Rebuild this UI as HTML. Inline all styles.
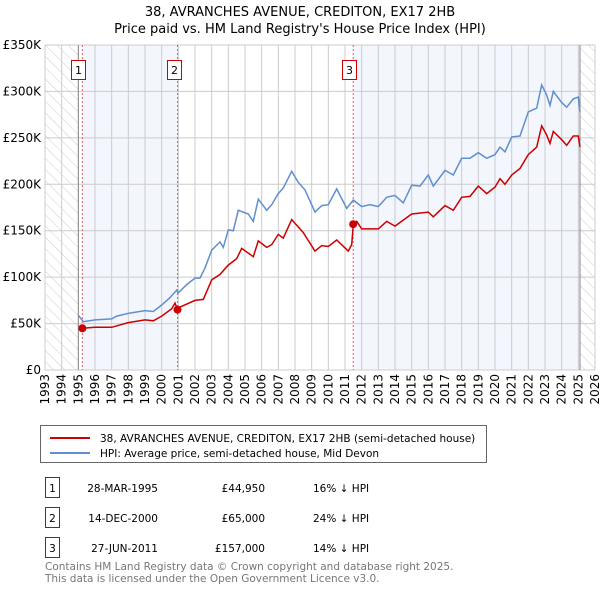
<!DOCTYPE html>
<html><head><meta charset="utf-8">
<style>
body{margin:0;background:#fff;}
svg{display:block;font-family:"DejaVu Sans","Liberation Sans",sans-serif;}
</style></head>
<body>
<svg id="chart" width="600" height="590" viewBox="0 0 600 590">
<defs>
<pattern id="hatch" width="8" height="8" patternUnits="userSpaceOnUse" patternTransform="rotate(-45)">
<line x1="0" y1="0" x2="0" y2="8" stroke="#ccc" stroke-width="1"/>
</pattern>
</defs>
<text x="300" y="16" text-anchor="middle" font-size="13" fill="#000">38, AVRANCHES AVENUE, CREDITON, EX17 2HB</text>
<text x="300" y="33" text-anchor="middle" font-size="13" fill="#000">Price paid vs. HM Land Registry's House Price Index (HPI)</text>
<g id="bg"></g>
<g id="grid"></g>
<g id="marks"></g>
<g id="axes"></g>
<g id="legend">
<rect x="40.5" y="425.5" width="446" height="37" fill="#fff" stroke="#666"/>
<line x1="50" y1="438" x2="90" y2="438" stroke="#cc0000" stroke-width="2"/>
<text x="100" y="442" font-size="10.5">38, AVRANCHES AVENUE, CREDITON, EX17 2HB (semi-detached house)</text>
<line x1="50" y1="453" x2="90" y2="453" stroke="#5f8fd0" stroke-width="2"/>
<text x="100" y="457" font-size="10.5">HPI: Average price, semi-detached house, Mid Devon</text>
</g>
<g id="table" font-size="10.5"></g>
<text x="45" y="570" font-size="10.5" fill="#777">Contains HM Land Registry data © Crown copyright and database right 2025.</text>
<text x="45" y="582" font-size="10.5" fill="#777">This data is licensed under the Open Government Licence v3.0.</text>
</svg>
<script>
const hpiYears=[1995.0,1995.3,1996,1997,1997.3,1998,1999,1999.5,2000,2000.5,2000.9,2001,2001.5,2002,2002.3,2002.6,2003,2003.5,2003.7,2004,2004.3,2004.6,2005.2,2005.5,2005.8,2006.3,2006.6,2007,2007.3,2007.8,2008.2,2008.6,2009.2,2009.6,2010,2010.5,2011.1,2011.5,2012,2012.5,2013,2013.5,2014,2014.5,2015,2015.5,2016,2016.3,2017,2017.5,2018,2018.5,2019,2019.5,2020,2020.3,2020.6,2021,2021.5,2022,2022.5,2022.8,2023.1,2023.3,2023.5,2024,2024.3,2024.7,2025,2025.1];
const hpiValues=[59,52,54,55,58,61,64,63,70,78,86,83,92,99,99,110,129,138,132,151,150,172,168,160,184,172,178,190,196,214,202,194,170,177,178,195,174,183,176,178,176,186,188,180,199,198,210,198,215,210,228,228,234,228,232,240,235,251,252,278,282,307,296,285,300,288,283,292,294,278];
const ppYears=[1995.24,1996,1997,1998,1999,1999.5,2000,2000.6,2000.8,2000.95,2001,2002,2002.5,2003,2003.5,2004,2004.5,2004.8,2005.5,2005.8,2006.3,2006.6,2007,2007.3,2007.8,2008.5,2009.2,2009.6,2010,2010.5,2011.2,2011.4,2011.5,2011.7,2012,2013,2013.5,2014,2015,2016,2016.3,2017,2017.5,2018,2018.5,2019,2019.5,2020,2020.3,2020.6,2021,2021.5,2022,2022.5,2022.8,2023.1,2023.3,2023.5,2024,2024.3,2024.7,2025,2025.1];
const ppValues=[44.95,46,46,51,54,53,58,66,72,65,67,75,76,97,103,113,120,131,122,139,132,135,146,142,162,148,128,134,133,140,128,135,157,160,152,152,160,155,168,170,165,177,172,186,187,198,190,197,206,200,210,217,232,240,263,253,244,257,248,242,252,252,240];
const saleYears=[1995.24,2000.95,2011.49];
const saleValues=[44.95,65,157];
const saleLabels=["1","2","3"];
const saleDates=["28-MAR-1995","14-DEC-2000","27-JUN-2011"];
const salePrices=["£44,950","£65,000","£157,000"];
const saleDiffs=["16% ↓ HPI","24% ↓ HPI","14% ↓ HPI"];
const yTicks=[0,50,100,150,200,250,300,350];
const yTickLabels=["£0","£50K","£100K","£150K","£200K","£250K","£300K","£350K"];
const xTicks=[];for(let y=1993;y<=2026;y++)xTicks.push(y);

const X0=45,X1=595,Y0=370,Y1=45;
const xs=v=>X0+(v-1993)/(2026-1993)*(X1-X0);
const ys=v=>Y0-v/350*(Y0-Y1);
const NS="http://www.w3.org/2000/svg";
function mk(parent,tag,attrs){const e=document.createElementNS(NS,tag);for(const k in attrs)e.setAttribute(k,attrs[k]);document.getElementById(parent).appendChild(e);return e;}

let e;
e=mk('bg','rect',{x:X0,y:Y1,width:X1-X0,height:Y0-Y1,fill:'#fff'});


e=mk('bg','rect',{x:X0,y:Y1,width:xs(1995)-X0,height:Y0-Y1,fill:'url(#hatch)'});


e=mk('bg','rect',{x:xs(2025.1),y:Y1,width:X1-xs(2025.1),height:Y0-Y1,fill:'url(#hatch)'});


e=mk('bg','rect',{x:xs(saleYears[0]),y:Y1,width:xs(saleYears[1])-xs(saleYears[0]),height:Y0-Y1,fill:'#f3f6fd'});


e=mk('bg','rect',{x:xs(saleYears[2]),y:Y1,width:xs(2025.1)-xs(saleYears[2]),height:Y0-Y1,fill:'#f3f6fd'});



xTicks.forEach(t=>{e=mk('grid','line',{x1:xs(t),x2:xs(t),y1:Y1,y2:Y0,stroke:'#ccc','stroke-width':1});

});
yTicks.forEach(t=>{e=mk('grid','line',{x1:X0,x2:X1,y1:ys(t),y2:ys(t),stroke:'#ccc','stroke-width':1});

});
e=mk('grid','line',{x1:xs(1995),x2:xs(1995),y1:Y1,y2:Y0,stroke:'#888','stroke-width':1});


e=mk('grid','line',{x1:xs(2025.1),x2:xs(2025.1),y1:Y1,y2:Y0,stroke:'#888','stroke-width':1});



saleYears.forEach((s,i)=>{
 e=mk('marks','line',{x1:xs(s),x2:xs(s),y1:Y1,y2:Y0,stroke:'#e06060','stroke-width':1,'stroke-dasharray':'2,2'});
 
 
 e=mk('marks','rect',{x:Math.round(xs(s)-11)+0.5,y:60.5,width:14,height:19,fill:'#fff',stroke:'#cc0000'});
 
 
 e=mk('marks','text',{x:Math.round(xs(s)-11)+7.5,y:74,'font-size':11,'text-anchor':'middle'});e.textContent=saleLabels[i];
 
 
});

function pathOf(xa,va){return xa.map((x,i)=>(i?'L':'M')+xs(x).toFixed(1)+','+ys(va[i]).toFixed(1)).join('');}
e=mk('marks','path',{d:pathOf(hpiYears,hpiValues),fill:'none',stroke:'#5f8fd0','stroke-width':1.5});


e=mk('marks','path',{d:pathOf(ppYears,ppValues),fill:'none',stroke:'#cc0000','stroke-width':1.5});


saleYears.forEach((s,i)=>{
 e=mk('marks','circle',{cx:xs(s),cy:ys(saleValues[i]),r:4,fill:'#cc0000'});
 
 
});

yTicks.forEach((t,i)=>{e=mk('axes','text',{x:41,y:ys(t)+4,'font-size':12,'text-anchor':'end'});e.textContent=yTickLabels[i];

});
xTicks.forEach(t=>{e=mk('axes','text',{x:0,y:0,'font-size':12,'text-anchor':'end',transform:`translate(${xs(t)+4},374) rotate(-90)`});e.textContent=t;

});

saleLabels.forEach((l,i)=>{
 const y=490+i*30;
 e=mk('table','rect',{x:45.5,y:y-12.5,width:14,height:20,fill:'#fff',stroke:'#cc0000'});
 
 
 e=mk('table','text',{x:52.5,y:y+2,'text-anchor':'middle'});e.textContent=l;
 
 
 e=mk('table','text',{x:158,y:y+2,'text-anchor':'end'});e.textContent=saleDates[i];
 
 
 e=mk('table','text',{x:265,y:y+2,'text-anchor':'end'});e.textContent=salePrices[i];
 
 
 e=mk('table','text',{x:313,y:y+2});e.textContent=saleDiffs[i];
 
 
});
</script>
</body></html>
